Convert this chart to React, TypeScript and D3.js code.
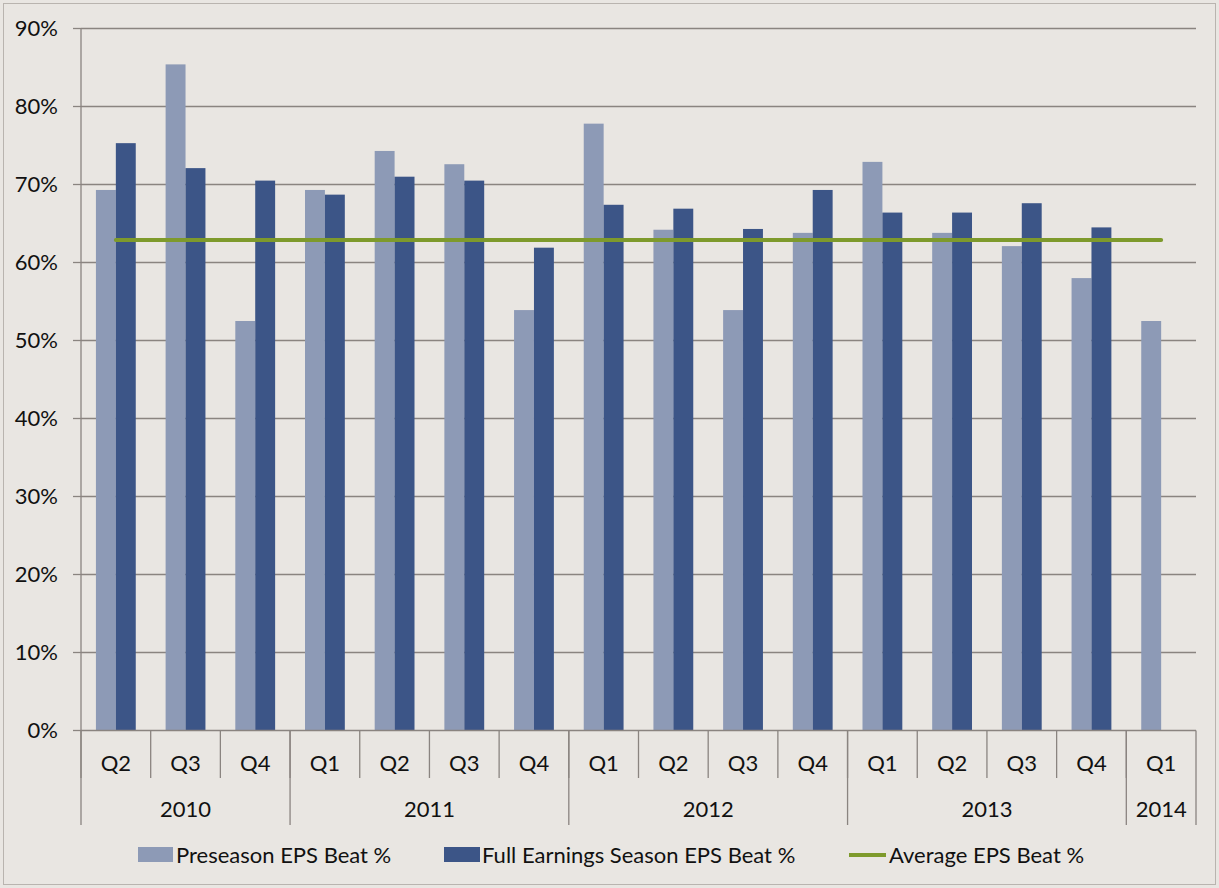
import React from "react";
import * as d3 from "d3";

const quarters = ["Q2","Q3","Q4","Q1","Q2","Q3","Q4","Q1","Q2","Q3","Q4","Q1","Q2","Q3","Q4","Q1"];
const years = ["2010","2011","2012","2013","2014"];
const yearSpans = [3, 4, 4, 4, 1];
const preseason = [69.3, 85.4, 52.5, 69.3, 74.3, 72.6, 53.9, 77.8, 64.2, 53.9, 63.8, 72.9, 63.8, 62.1, 58.0, 52.5];
const fullSeason: (number | null)[] = [75.3, 72.1, 70.5, 68.7, 71.0, 70.5, 61.9, 67.4, 66.9, 64.3, 69.3, 66.4, 66.4, 67.6, 64.5, null];
const averageBeat = 62.9;
const yTicks = [0, 10, 20, 30, 40, 50, 60, 70, 80, 90];
const seriesNames = ["Preseason EPS Beat %", "Full Earnings Season EPS Beat %", "Average EPS Beat %"];

const W = 1219, H = 888;
const left = 81, right = 1196, top = 28.5, bottom = 730.5;
const FONT = "Lato, 'Open Sans', sans-serif";
const C_LIGHT = "#8D9AB6";
const C_DARK = "#3C5587";
const C_GREEN = "#7E9A2C";
const C_GRID = "#8A8480";
const BG = "#E9E6E2";
const FS = 22;

export default function App() {
  const cats = quarters.map((_, i) => String(i));
  const x = d3.scaleBand<string>().domain(cats).range([left, right]).padding(0);
  const y = d3.scaleLinear().domain([0, 90]).range([bottom, top]);
  const step = x.bandwidth();
  const bw = step / 3.5;
  const inner = d3.scaleBand<string>().domain(["pre", "full"]).range([-bw, bw]).padding(0);
  const cx = (i: number) => (x(String(i)) as number) + step / 2;

  const lineGen = d3.line<number>().x((_, i) => cx(i)).y(() => y(averageBeat));

  let acc = 0;
  const yearBounds = yearSpans.map((s) => {
    const start = acc;
    acc += s;
    return { start, end: acc };
  });

  return (
    <svg width={W} height={H} style={{ position: "absolute", left: 0, top: 0, display: "block" }} fontFamily={FONT}>
      <rect x={0} y={0} width={W} height={H} fill={BG} />
      <rect x={3.5} y={3.5} width={W - 7} height={H - 7} fill="none" stroke="#B9B4AF" strokeWidth={1} />
      {yTicks.map((t) => (
        <g key={t}>
          {t > 0 && <line x1={left} x2={right} y1={y(t)} y2={y(t)} stroke={C_GRID} strokeWidth={1.3} />}
          <line x1={left - 8} x2={left} y1={y(t)} y2={y(t)} stroke={C_GRID} strokeWidth={1.3} />
          <text x={58} y={y(t)} dy="0.35em" textAnchor="end" fontSize={FS} fill="#111">{t}%</text>
        </g>
      ))}
      {preseason.map((v, i) => (
        <rect key={"p" + i} x={cx(i) + (inner("pre") as number)} y={y(v)} width={inner.bandwidth()} height={y(0) - y(v)} fill={C_LIGHT} />
      ))}
      {fullSeason.map((v, i) =>
        v == null ? null : (
          <rect key={"f" + i} x={cx(i) + (inner("full") as number)} y={y(v)} width={inner.bandwidth()} height={y(0) - y(v)} fill={C_DARK} />
        )
      )}
      <path d={lineGen(quarters.map(() => averageBeat)) || ""} fill="none" stroke={C_GREEN} strokeWidth={4} strokeLinecap="round" />
      <line x1={left} x2={left} y1={top} y2={825} stroke={C_GRID} strokeWidth={1.3} />
      <line x1={left} x2={right} y1={bottom} y2={bottom} stroke={C_GRID} strokeWidth={1.3} />
      {cats.map((c, i) => (
        <line key={"t" + i} x1={x(c) as number} x2={x(c) as number} y1={bottom} y2={778} stroke={C_GRID} strokeWidth={1.3} />
      ))}
      {yearBounds.map((b, i) => {
        const xe = b.end >= quarters.length ? right : (x(String(b.end)) as number);
        return <line key={"yb" + i} x1={xe} x2={xe} y1={bottom} y2={825} stroke={C_GRID} strokeWidth={1.3} />;
      })}
      {quarters.map((q, i) => (
        <text key={"q" + i} x={cx(i)} y={763} dy="0.35em" textAnchor="middle" fontSize={FS} fill="#111">{q}</text>
      ))}
      {yearBounds.map((b, i) => {
        const xs = x(String(b.start)) as number;
        const xe = b.end >= quarters.length ? right : (x(String(b.end)) as number);
        return (
          <text key={"y" + i} x={(xs + xe) / 2} y={809} dy="0.35em" textAnchor="middle" fontSize={FS} fill="#111">{years[i]}</text>
        );
      })}
      <g fontSize={FS} fill="#111">
        <rect x={138} y={847} width={35} height={15} fill={C_LIGHT} />
        <text x={176} y={855} dy="0.35em">{seriesNames[0]}</text>
        <rect x={444} y={847} width={36} height={15} fill={C_DARK} />
        <text x={482} y={855} dy="0.35em">{seriesNames[1]}</text>
        <line x1={849} x2={886} y1={855} y2={855} stroke={C_GREEN} strokeWidth={4} />
        <text x={889} y={855} dy="0.35em">{seriesNames[2]}</text>
      </g>
    </svg>
  );
}
